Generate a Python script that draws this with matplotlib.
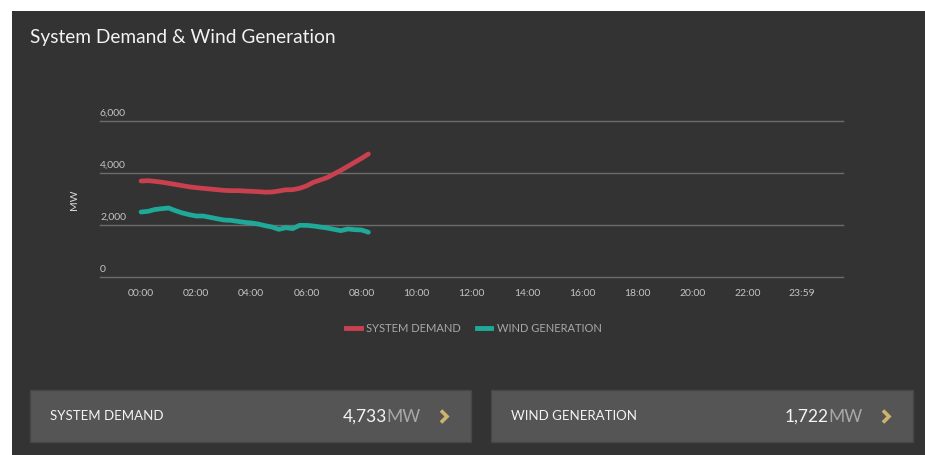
import matplotlib
matplotlib.use("Agg")
import matplotlib.pyplot as plt
from matplotlib.patches import Rectangle
from matplotlib.lines import Line2D
import matplotlib.transforms as mtransforms

plt.rcParams['font.family'] = ['Lato', 'DejaVu Sans']

# ---- data ----
times = ["00:00", "00:15", "00:30", "00:45", "01:00", "01:15", "01:30", "01:45",
         "02:00", "02:15", "02:30", "02:45", "03:00", "03:15", "03:30", "03:45",
         "04:00", "04:15", "04:30", "04:45", "05:00", "05:15", "05:30", "05:45",
         "06:00", "06:15", "06:30", "06:45", "07:00", "07:15", "07:30", "07:45",
         "08:00", "08:15"]
system_demand = [3692, 3705, 3679, 3647, 3603, 3558, 3513, 3468, 3436, 3410,
                 3385, 3359, 3333, 3321, 3321, 3308, 3295, 3282, 3263, 3269,
                 3308, 3353, 3359, 3410, 3500, 3641, 3731, 3821, 3962, 4103,
                 4256, 4410, 4564, 4733]
wind_generation = [2500, 2526, 2596, 2628, 2654, 2551, 2462, 2397, 2346, 2346,
                   2295, 2244, 2192, 2179, 2141, 2103, 2077, 2038, 1974, 1923,
                   1833, 1897, 1859, 1987, 1987, 1962, 1923, 1885, 1833, 1782,
                   1846, 1821, 1808, 1722]
x_tick_labels = ["00:00", "02:00", "04:00", "06:00", "08:00", "10:00", "12:00",
                 "14:00", "16:00", "18:00", "20:00", "22:00", "23:59"]
y_ticks = [0, 2000, 4000, 6000]
y_tick_labels = ["0", "2,000", "4,000", "6,000"]
series_names = ["SYSTEM DEMAND", "WIND GENERATION"]
latest_values = ["4,733", "1,722"]


def to_hours(s):
    h, m = s.split(":")
    return int(h) + int(m) / 60.0


xs = [to_hours(t) for t in times]
xticks = [to_hours(t) for t in x_tick_labels]

W, H = 925, 455
fig = plt.figure(figsize=(W / 100, H / 100), dpi=100)
fig.patch.set_facecolor("white")

BG = "#333333"
RED = "#c9404f"
TEAL = "#1fa999"
GOLD = "#cdb46e"


def px_rect(x0, y0, x1, y1):
    return [x0 / W, 1 - y1 / H, (x1 - x0) / W, (y1 - y0) / H]


# dark panel
bgax = fig.add_axes([0, 0, 1, 1])
bgax.set_xlim(0, W)
bgax.set_ylim(H, 0)
bgax.axis("off")
bgax.add_patch(Rectangle((12, 11), W - 12, H - 11, facecolor=BG, edgecolor="none"))

# title
bgax.text(30, 38, "System Demand & Wind Generation", color="#f2f2f2",
          fontsize=13.8, va="center", ha="left")

# bottom boxes
boxes = [(30, 390, 471, 442), (491, 390, 913, 442)]
for (x0, y0, x1, y1), name, val in zip(boxes, series_names, latest_values):
    bgax.add_patch(Rectangle((x0, y0), x1 - x0, y1 - y0, facecolor="#555555",
                             edgecolor="#474747", lw=1))
    cy = (y0 + y1) / 2 + 0.5
    bgax.text(x0 + 20, cy, name, color="#f4f4f4", fontsize=9.5,
              va="center", ha="left")
    t_mw = bgax.text(x1 - 50, cy, "MW", color="#a8a8a8", fontsize=12.5,
                     va="center", ha="right")
    bgax.annotate(val, xy=(0, 0.5), xycoords=t_mw, xytext=(0, 0),
                  textcoords="offset points", color="#f4f4f4", fontsize=12.5,
                  va="center", ha="right")
    # chevron icon
    cx = x1 - 27
    bgax.plot([cx - 3, cx + 3, cx - 3], [cy - 6, cy, cy + 6], color=GOLD,
              lw=2.6, solid_capstyle="butt", solid_joinstyle="miter")

# chart axes
ax = fig.add_axes(px_rect(100, 121, 843, 277))
ax.set_facecolor("none")
ax.set_xlim(-1.49, 25.47)
ax.set_ylim(0, 6000)
for s in ax.spines.values():
    s.set_visible(False)
ax.set_yticks(y_ticks)
ax.set_yticklabels([])
ax.tick_params(axis="y", length=0)
for v in y_ticks:
    ax.axhline(v, color="#6c6c6c", lw=1, clip_on=False, zorder=0)
ax.set_xticks(xticks)
ax.set_xticklabels(x_tick_labels, color="#c4c4c4", fontsize=7.5)
ax.tick_params(axis="x", length=0, pad=9)

trans = mtransforms.blended_transform_factory(ax.transAxes, ax.transData)
for v, lab in zip(y_ticks, y_tick_labels):
    ax.annotate(lab, xy=(0, v), xycoords=trans, xytext=(0, 2.5),
                textcoords="offset points", color="#c4c4c4", fontsize=7.5,
                ha="left", va="bottom")

ax.plot(xs, system_demand, color=RED, lw=3.4, solid_capstyle="round",
        solid_joinstyle="round")
ax.plot(xs, wind_generation, color=TEAL, lw=3.4, solid_capstyle="round",
        solid_joinstyle="round")

bgax.text(75, 200, "MW", color="#dddddd", fontsize=7.5, rotation=90,
          va="center", ha="center")

handles = [Line2D([], [], color=RED, lw=3.5), Line2D([], [], color=TEAL, lw=3.5)]
leg = fig.legend(handles, series_names, loc="center",
                 bbox_to_anchor=(474 / W, 1 - 328 / H), ncol=2, frameon=False,
                 fontsize=8, handlelength=1.3, handletextpad=0.5,
                 columnspacing=1.4, labelcolor="#a8a8a8")

fig.savefig("out.png", dpi=100, facecolor=fig.get_facecolor())
